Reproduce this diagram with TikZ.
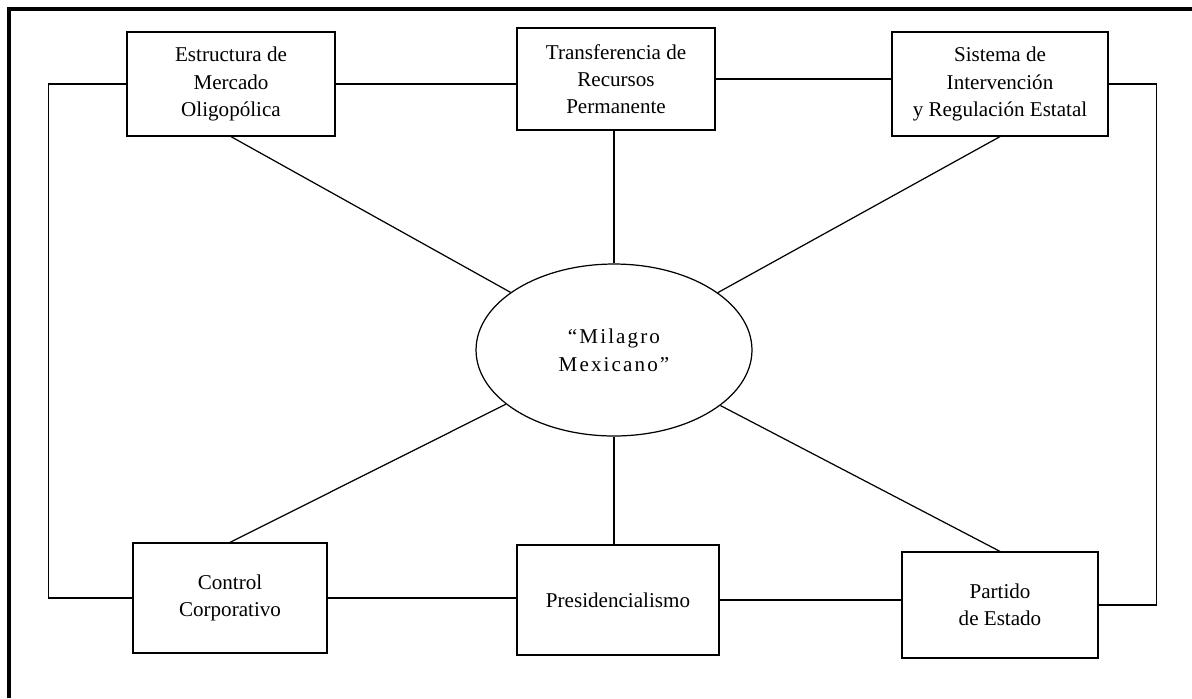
\documentclass[tikz,border=0pt]{standalone}
\usepackage{fontspec}
\setmainfont{Liberation Serif}
\usetikzlibrary{calc,positioning,shapes.geometric}

\begin{document}
\begin{tikzpicture}[x=0.02cm,y=-0.02cm,line width=0.7pt,
    caja/.style={draw,rectangle,align=center,inner sep=0pt,
        font=\fontsize{12pt}{15.5pt}\selectfont},
    elipse/.style={draw,ellipse,align=center,inner sep=0pt,
        font=\fontsize{12pt}{16pt}\selectfont\addfontfeature{LetterSpace=10}}]
    \useasboundingbox (0,0) rectangle (1192,698);
    \draw[line width=2.4pt] (1192,9) -- (9,9) -- (9,698);

    \node[caja,minimum width=4.16cm,minimum height=2.08cm] (em) at (231,84) {Estructura de\\Mercado\\Oligopólica};
    \node[caja,minimum width=3.96cm,minimum height=2.04cm] (tr) at (616,79) {Transferencia de\\Recursos\\Permanente};
    \node[caja,minimum width=4.32cm,minimum height=2.08cm] (si) at (1000,84) {Sistema de\\Intervención\\y Regulación Estatal};
    \node[caja,minimum width=3.88cm,minimum height=2.2cm] (cc) at (230,598) {Control\\Corporativo};
    \node[caja,minimum width=4.04cm,minimum height=2.2cm] (pr) at (618,600) {Presidencialismo};
    \node[caja,minimum width=3.92cm,minimum height=2.12cm] (pe) at (1000,605) {Partido\\de Estado};
    \node[elipse,minimum width=5.52cm,minimum height=3.44cm] (mm) at (614,350) {“Milagro\\Mexicano”};

    \draw (em.south) -- (mm);
    \draw (mm) -- (mm |- tr.south);
    \draw (si.south) -- (mm);
    \draw (cc.north) -- (mm);
    \draw (mm) -- (mm |- pr.north);
    \draw (pe.north) -- (mm);

    \draw (em.east) -- (em.east -| tr.west);
    \draw (tr.east) -- (tr.east -| si.west);
    \draw (cc.east) -- (cc.east -| pr.west);
    \draw (pr.east) -- (pr.east -| pe.west);
    \draw (em.west) -- ++(-78,0) |- (cc.west);
    \draw (si.east) -- ++(48,0) |- (pe.east);
\end{tikzpicture}
\end{document}
